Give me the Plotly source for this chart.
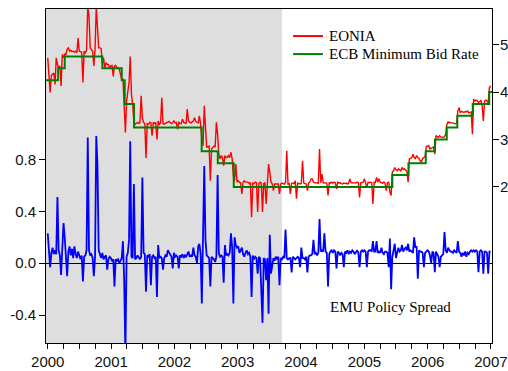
import pandas as pd
import plotly.graph_objects as go

week_start = "2000-01-01"

# EMU policy spread (left axis)
spread = [
    0.23, 0.08, -0.03, 0.08, 0.12, 0.07, 0.10, 0.07, 0.51, 0.10,
    0.06, -0.09, 0.08, 0.31, 0.20, 0.07, -0.10, 0.09, 0.13, 0.06,
    0.11, 0.04, 0.13, 0.07, 0.04, 0.09, 0.05, 0.03, 0.06, -0.14,
    0.05, 0.06, 0.10, 0.97, 0.10, 0.06, 0.07, 0.04, -0.10, 0.05,
    0.98, 0.75, 0.10, 0.06, 0.04, 0.08, 0.03, 0.05, 0.06, -0.05,
    0.03, 0.05, 0.04, 0.02, 0.03, -0.18, 0.03, 0.02, 0.03, 0.00,
    0.02, 0.04, 0.17, -0.13, -0.70, 0.05, 0.08, 0.18, 0.94, 0.05,
    0.04, 0.61, 0.03, 0.04, 0.06, 0.04, 0.03, 0.05, 0.66, 0.08,
    0.07, -0.22, 0.06, 0.05, 0.07, -0.17, 0.05, 0.06, 0.04, 0.05,
    -0.26, 0.14, 0.04, 0.05, 0.04, -0.05, 0.04, 0.06, 0.05, 0.10,
    0.08, 0.06, 0.05, -0.04, 0.08, 0.05, 0.06, 0.05, -0.04, 0.06,
    0.05, 0.07, 0.04, 0.06, 0.05, 0.07, 0.09, 0.05, 0.06, 0.05,
    0.12, 0.06, 0.05, 0.00, 0.13, 0.15, 0.07, -0.31, 0.10, 0.75,
    0.18, 0.06, 0.05, 0.04, -0.18, 0.05, 0.04, 0.03, 0.01, 0.05,
    0.68, 0.08, 0.05, 0.06, 0.05, -0.15, 0.14, 0.06, 0.07, 0.06,
    0.08, 0.23, 0.12, -0.31, 0.20, 0.14, 0.12, 0.13, 0.08, 0.10,
    0.12, 0.07, 0.05, 0.08, 0.10, 0.07, 0.08, 0.05, -0.26, 0.06,
    0.03, 0.05, 0.04, -0.08, 0.05, 0.04, -0.18, -0.46, 0.04, 0.03,
    -0.13, 0.04, -0.39, 0.22, -0.08, -0.02, 0.04, 0.02, 0.05, 0.03,
    0.05, -0.17, 0.04, 0.03, 0.05, 0.04, 0.26, 0.04, 0.03, 0.04,
    0.04, -0.07, 0.05, 0.04, 0.03, 0.04, 0.05, 0.04, -0.03, 0.12,
    0.04, 0.04, 0.03, 0.05, -0.07, 0.05, 0.06, 0.06, 0.07, 0.18,
    0.07, 0.08, 0.06, 0.08, 0.34, 0.09, 0.10, 0.09, 0.23, 0.09,
    0.08, -0.18, 0.07, 0.09, 0.10, 0.08, 0.10, 0.09, -0.04, 0.09,
    0.08, 0.06, 0.08, 0.07, -0.03, 0.09, 0.08, 0.10, 0.07, 0.09,
    0.08, 0.10, 0.09, 0.07, 0.09, 0.10, 0.08, -0.03, 0.09, 0.10,
    0.09, 0.10, 0.09, -0.03, 0.09, 0.10, 0.10, 0.09, 0.17, 0.09,
    0.09, 0.17, 0.08, 0.09, 0.08, 0.12, 0.08, 0.07, 0.09, 0.09,
    0.08, -0.03, 0.19, -0.20, 0.05, 0.09, 0.15, 0.04, 0.09, 0.12,
    0.09, 0.10, 0.14, 0.09, 0.11, 0.12, 0.10, 0.15, 0.09, 0.10,
    0.09, 0.08, 0.20, 0.12, 0.13, -0.12, 0.10, 0.09, 0.09, 0.08,
    -0.03, 0.08, 0.09, 0.10, 0.09, 0.06, 0.00, 0.09, 0.08, -0.07,
    0.09, 0.07, 0.05, -0.03, 0.05, 0.06, 0.07, 0.24, 0.10, 0.08,
    0.12, 0.10, 0.09, 0.09, 0.08, 0.10, 0.09, 0.08, 0.17, 0.09,
    0.08, 0.05, 0.08, 0.06, 0.09, 0.05, 0.08, 0.07, 0.09, 0.10,
    0.09, 0.10, 0.09, 0.10, 0.09, -0.07, 0.09, 0.10, 0.09, -0.08,
    0.09, 0.09, 0.08, -0.08, 0.09, 0.09,
]

# EONIA (right axis)
eonia = [
    4.72, 4.44, 3.99, 4.35, 4.37, 4.40, 4.16, 4.72, 4.58, 4.51,
    4.55, 4.13, 4.79, 4.72, 4.80, 4.79, 4.90, 4.93, 4.86, 4.88,
    4.85, 4.86, 4.84, 4.86, 4.83, 5.14, 4.86, 4.85, 4.84, 4.20,
    4.86, 4.83, 4.88, 5.80, 5.60, 4.93, 4.88, 4.86, 4.55, 4.90,
    5.80, 5.42, 4.93, 4.93, 4.92, 4.60, 4.72, 4.51, 4.62, 4.58,
    4.58, 4.51, 4.55, 4.56, 4.33, 4.55, 4.56, 4.52, 4.50, 4.48,
    4.37, 4.27, 4.27, 3.74, 3.15, 3.81, 3.99, 4.20, 4.75, 3.95,
    3.74, 3.36, 3.32, 3.35, 3.36, 3.34, 3.35, 3.92, 3.46, 3.36,
    3.33, 2.61, 3.33, 3.32, 3.36, 3.35, 3.08, 3.36, 3.34, 3.35,
    3.00, 3.39, 3.32, 3.35, 3.88, 3.33, 3.32, 3.34, 3.35, 3.36,
    3.38, 3.35, 3.33, 3.36, 3.39, 3.35, 3.36, 3.22, 3.36, 3.34,
    3.33, 3.43, 3.36, 3.35, 3.33, 3.64, 3.39, 3.36, 3.35, 3.37,
    3.39, 3.46, 3.38, 3.36, 3.35, 3.50, 3.32, 3.01, 2.87, 3.71,
    3.18, 2.83, 2.85, 2.86, 2.13, 2.80, 2.83, 2.86, 2.84, 3.36,
    3.11, 2.69, 2.59, 2.66, 2.62, 2.45, 2.66, 2.62, 2.62, 2.66,
    2.62, 2.73, 2.59, 2.24, 2.13, 2.48, 2.10, 2.13, 2.10, 2.08,
    1.85, 2.10, 2.13, 2.10, 2.10, 2.10, 2.07, 2.09, 1.36, 2.08,
    2.07, 2.10, 2.09, 1.47, 2.07, 2.10, 2.08, 1.47, 2.07, 2.09,
    1.64, 2.07, 2.48, 2.31, 2.10, 2.07, 1.92, 2.06, 2.06, 2.07,
    2.06, 1.85, 2.06, 2.08, 2.07, 2.06, 2.10, 2.76, 2.06, 2.07,
    1.85, 2.08, 2.08, 2.07, 2.13, 1.75, 2.08, 2.07, 2.06, 2.08,
    2.55, 2.08, 2.07, 2.06, 1.92, 2.08, 2.10, 2.17, 2.17, 2.10,
    2.09, 2.08, 2.09, 2.08, 2.80, 2.09, 2.27, 2.09, 2.08, 2.09,
    2.08, 1.82, 2.09, 2.08, 2.10, 2.08, 2.10, 2.09, 1.96, 2.10,
    2.08, 2.09, 2.07, 2.06, 2.08, 2.07, 2.08, 2.06, 2.08, 2.17,
    2.09, 2.08, 2.09, 2.09, 2.08, 2.10, 2.09, 1.78, 2.09, 2.09,
    2.10, 2.17, 2.09, 1.99, 2.10, 2.09, 2.10, 2.09, 1.64, 2.10,
    2.09, 2.20, 2.10, 2.17, 2.10, 2.09, 2.08, 2.10, 2.08, 1.92,
    2.09, 2.10, 1.89, 1.82, 2.31, 2.34, 2.41, 2.36, 2.34, 2.38,
    2.35, 2.34, 2.41, 2.37, 2.38, 2.36, 2.33, 2.10, 2.59, 2.60,
    2.62, 2.69, 2.62, 2.60, 2.66, 2.62, 2.60, 2.55, 2.52, 2.60,
    2.62, 2.64, 2.85, 2.86, 2.87, 2.80, 2.81, 2.83, 2.84, 2.69,
    3.08, 3.06, 3.04, 3.08, 3.05, 3.05, 3.04, 3.06, 3.11, 3.32,
    3.37, 3.35, 3.36, 3.35, 3.35, 3.34, 3.33, 3.34, 3.60, 3.67,
    3.57, 3.59, 3.58, 3.57, 3.59, 3.58, 3.60, 3.56, 3.57, 3.58,
    3.11, 3.85, 3.81, 3.83, 3.82, 3.78, 3.80, 3.82, 3.71, 3.39,
    3.81, 3.83, 3.81, 3.78, 4.09, 4.13,
]

# ECB minimum bid rate: date of each change and the new level
bid_dates = [
    "1999-12-22", "2000-03-01", "2000-04-08", "2000-11-11", "2001-03-03",
    "2001-03-20", "2001-05-13", "2002-06-07", "2002-09-08", "2002-12-09",
    "2005-06-11", "2005-09-12", "2005-12-21", "2006-02-12", "2006-04-21",
    "2006-06-21", "2006-09-18", "2006-12-22", "2007-01-07",
]
bid_rate = [
    4.25, 4.50, 4.75, 4.50, 4.25,
    3.75, 3.25, 2.75, 2.50, 2.00,
    2.25, 2.50, 2.75, 3.00, 3.25,
    3.50, 3.75, 4.00, 4.00,
]

years = [str(y) for y in range(2000, 2008)]
left_ticks = [-0.4, 0.0, 0.4, 0.8]
left_labels = ["-0.4", "0.0", "0.4", "0.8"]
right_ticks = [2, 3, 4, 5]

x_range = ["1999-12-22", "2007-01-07"]
shade_end = "2003-09-13"

dates = pd.date_range(week_start, periods=len(spread), freq="7D")

red = "#ff0000"
green = "#008000"

fig = go.Figure()
fig.add_trace(go.Scatter(
    x=dates, y=spread, mode="lines",
    line=dict(color="#0000ff", width=1.8),
    showlegend=False, yaxis="y",
))
fig.add_trace(go.Scatter(
    x=dates, y=eonia, mode="lines", name="EONIA",
    line=dict(color=red, width=1.4),
    showlegend=False, yaxis="y2",
))
fig.add_trace(go.Scatter(
    x=bid_dates, y=bid_rate, mode="lines", name="ECB Minimum Bid Rate",
    line=dict(color=green, width=2, shape="hv"),
    showlegend=False, yaxis="y2",
))

tick_font = dict(family="Liberation Sans, Arial, sans-serif", size=15, color="#111111")
serif = dict(family="Liberation Serif, Times New Roman, serif", size=15, color="black")

# legend drawn by hand so the rows sit as tight as in the original
legend_rows = [("EONIA", red, 0.919), ("ECB Minimum Bid Rate", green, 0.865)]
legend_shapes = []
legend_notes = []
for label, color, ly in legend_rows:
    legend_shapes.append(dict(
        type="line", xref="paper", yref="paper",
        x0=0.554, x1=0.621, y0=ly, y1=ly,
        line=dict(color=color, width=2),
    ))
    legend_notes.append(dict(
        text=label, x=0.63, y=ly, xref="paper", yref="paper",
        xanchor="left", yanchor="middle", showarrow=False, font=serif,
    ))

fig.update_layout(
    width=508,
    height=371,
    margin=dict(l=46, r=16, t=9, b=28, autoexpand=False),
    paper_bgcolor="white",
    plot_bgcolor="white",
    showlegend=False,
    xaxis=dict(
        type="date", range=x_range, automargin=False,
        tickvals=[y + "-01-01" for y in years], ticktext=years,
        ticks="outside", ticklen=5, tickcolor="black",
        showline=True, linecolor="black", linewidth=1, mirror=True,
        showgrid=False, tickfont=tick_font,
        minor=dict(dtick="M3", tick0="2000-01-01", ticks="outside",
                   ticklen=5, tickcolor="black", showgrid=False),
    ),
    # long ticks at mid-year
    xaxis2=dict(
        type="date", range=x_range, overlaying="x", anchor="y", side="bottom",
        automargin=False,
        tickvals=[y + "-07-01" for y in years[:-1]],
        ticks="outside", ticklen=8, tickcolor="black",
        showticklabels=False, showgrid=False, showline=False, zeroline=False,
    ),
    yaxis=dict(
        range=[-0.615, 1.96], tickvals=left_ticks, ticktext=left_labels,
        automargin=False,
        ticks="outside", ticklen=6, tickcolor="black",
        showline=True, linecolor="black", linewidth=1,
        showgrid=False, zeroline=True, zerolinecolor="black", zerolinewidth=1,
        tickfont=tick_font,
    ),
    yaxis2=dict(
        range=[-1.29, 5.75], tickvals=right_ticks, overlaying="y", side="right",
        automargin=False,
        ticks="outside", ticklen=6, tickcolor="black", ticklabelstandoff=-2,
        showline=True, linecolor="black", linewidth=1,
        showgrid=False, zeroline=False, tickfont=tick_font,
    ),
    shapes=[dict(
        type="rect", xref="x", yref="paper",
        x0=x_range[0], x1=shade_end, y0=0, y1=1,
        fillcolor="#dedede", line=dict(width=0), layer="below",
    )] + legend_shapes,
    annotations=[dict(
        text="EMU Policy Spread", x="2005-06-01", y=-0.338,
        xref="x", yref="y", showarrow=False, font=serif,
    )] + legend_notes,
)

# drop the page's default body margin so the figure fills the window exactly
fig.write_html(
    "out.html",
    config={"displayModeBar": False},
    post_script="document.body.style.margin='0';document.body.style.overflow='hidden';",
)
